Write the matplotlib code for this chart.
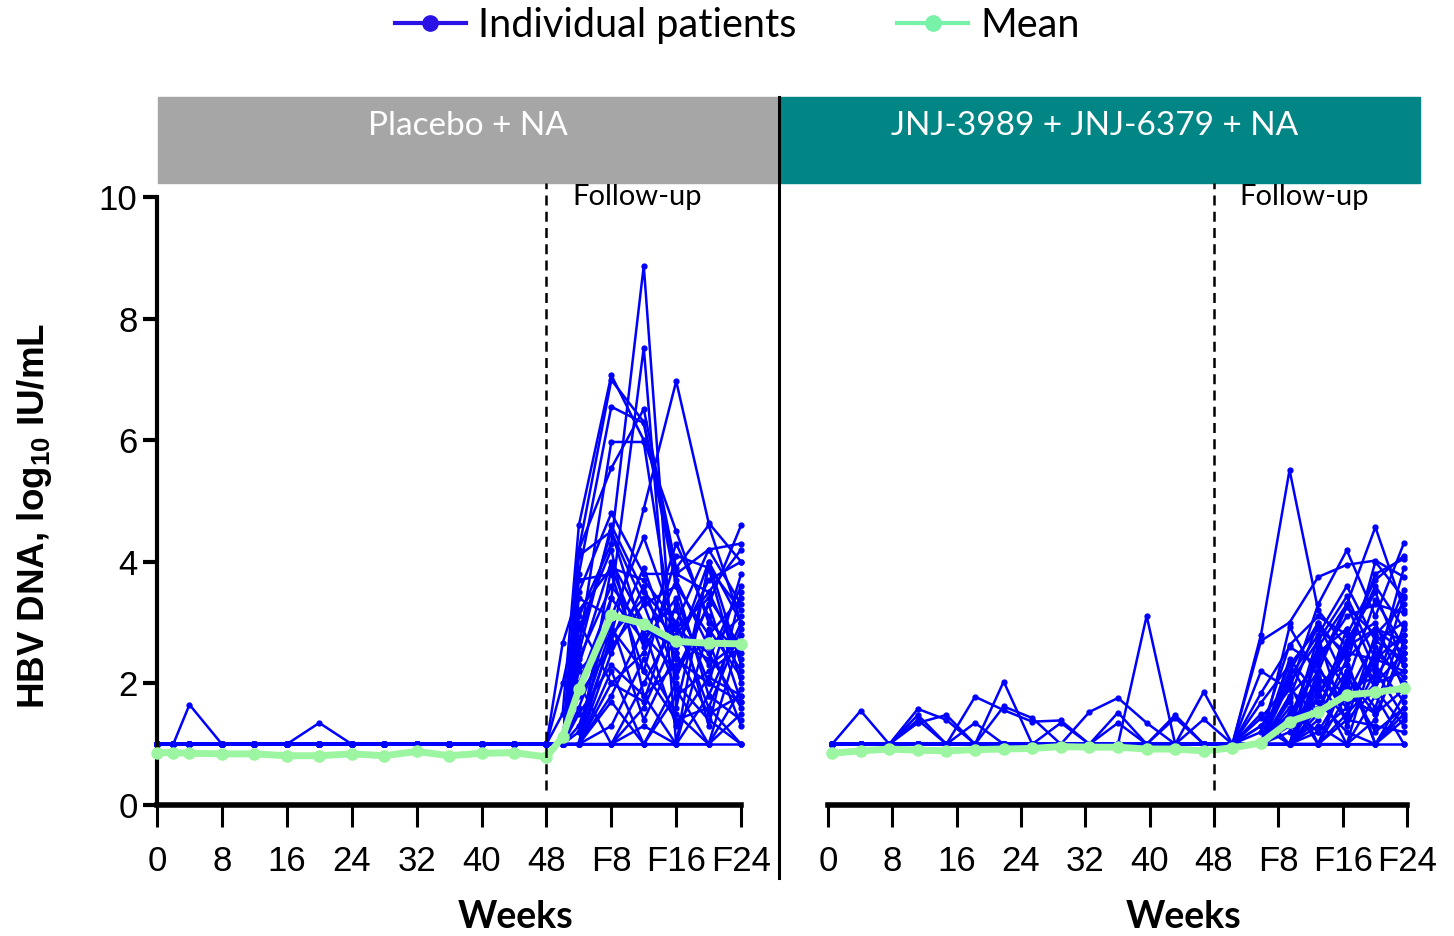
import matplotlib
matplotlib.use("Agg")
import matplotlib.pyplot as plt
from matplotlib.lines import Line2D
from matplotlib.patches import Rectangle

plt.rcParams['font.family'] = 'Liberation Sans'
plt.rcParams['mathtext.fontset'] = 'custom'
plt.rcParams['mathtext.rm'] = 'Liberation Sans'
plt.rcParams['mathtext.bf'] = 'Liberation Sans:bold'

# ---- data (log10 IU/mL), follow-up weeks F2..F24 drawn after week 48 ----
left_weeks = [0, 2, 4, 8, 12, 16, 20, 24, 28, 32, 36, 40, 44, 48,
              50, 52, 56, 60, 64, 68, 72]
# right arm visits are drawn equally spaced in the source figure
right_weeks = [0.5, 4.06, 7.61, 11.17, 14.72, 18.28, 21.84, 25.39, 28.95, 32.5,
               36.06, 39.62, 43.17, 46.73, 50.28, 53.84, 57.39, 60.95, 64.51,
               68.06, 71.62]

tick_weeks = [0, 8, 16, 24, 32, 40, 48, 56, 64, 72]
tick_labels = ['0', '8', '16', '24', '32', '40', '48', 'F8', 'F16', 'F24']

LLOQ_ON = [1.0] * 14   # on-treatment values at the lower limit

# Placebo + NA: on-treatment blips
left_on = {
    0: [1.0, 1.0, 1.65, 1.0, 1.0, 1.0, 1.0, 1.0, 1.0, 1.0, 1.0, 1.0, 1.0, 1.0],
    1: [1.0, 1.0, 1.0, 1.0, 1.0, 1.0, 1.35, 1.0, 1.0, 1.0, 1.0, 1.0, 1.0, 1.0],
}
# Placebo + NA: follow-up F2, F4, F8, F12, F16, F20, F24
left_fu = [
    [1.5, 4.6, 7.07, 6.0, 4.5, 3.0, 2.5],
    [1.0, 4.2, 6.99, 6.3, 3.8, 3.5, 4.2],
    [1.0, 3.8, 6.55, 6.28, 3.6, 2.8, 3.4],
    [1.0, 2.6, 5.97, 5.97, 2.5, 1.5, 1.8],
    [1.0, 3.1, 4.3, 8.87, 1.6, 3.9, 2.0],
    [1.0, 2.0, 3.4, 7.52, 1.0, 4.0, 3.0],
    [1.0, 1.0, 2.8, 4.87, 6.97, 4.64, 4.0],
    [1.0, 4.2, 5.54, 6.51, 3.9, 4.6, 3.0],
    [2.66, 3.5, 4.8, 3.8, 3.8, 4.2, 4.3],
    [1.0, 2.7, 4.5, 2.8, 2.2, 3.3, 1.7],
    [1.0, 1.0, 3.9, 3.7, 3.0, 1.6, 2.9],
    [1.0, 1.0, 1.0, 2.0, 3.0, 4.2, 3.3],
    [1.0, 2.2, 2.8, 3.4, 2.7, 2.4, 3.6],
    [1.0, 1.5, 2.3, 1.8, 1.0, 2.9, 2.1],
    [1.0, 1.0, 1.7, 1.0, 2.0, 1.4, 1.0],
    [2.0, 3.2, 3.9, 2.6, 4.3, 3.1, 2.2],
    [1.0, 1.8, 2.6, 3.3, 3.6, 1.8, 3.0],
    [1.0, 1.0, 1.3, 2.4, 1.5, 1.0, 1.9],
    [1.0, 2.9, 4.2, 1.8, 2.3, 2.7, 1.3],
    [1.0, 1.0, 2.2, 1.0, 1.8, 2.2, 2.6],
    [1.0, 3.7, 3.8, 2.2, 1.4, 1.6, 1.0],
    [1.0, 1.0, 1.0, 1.0, 1.0, 1.0, 1.0],
    [1.0, 2.4, 3.6, 2.9, 2.6, 3.7, 4.0],
    [1.0, 1.0, 1.0, 1.6, 2.8, 3.5, 2.4],
    [1.0, 4.1, 4.5, 3.3, 1.9, 1.0, 1.5],
    [1.0, 1.0, 3.4, 2.7, 3.4, 2.0, 3.8],
    [1.0, 2.0, 1.0, 1.0, 1.0, 1.8, 1.4],
    [1.0, 1.3, 2.9, 2.2, 4.1, 3.9, 3.2],
    [1.0, 1.0, 1.0, 1.3, 1.0, 1.0, 2.8],
    [1.0, 3.4, 3.1, 4.4, 2.9, 2.5, 1.6],
    [1.0, 2.3, 4.0, 3.0, 3.2, 2.3, 2.7],
    [1.0, 1.0, 2.5, 3.6, 2.1, 3.3, 4.6],
    [1.0, 3.0, 2.0, 2.5, 3.7, 2.6, 3.1],
    [1.0, 1.6, 3.0, 1.4, 2.5, 4.0, 2.3],
    [1.0, 1.0, 1.8, 2.9, 1.3, 2.1, 1.8],
    [1.0, 2.5, 4.6, 3.5, 2.9, 3.4, 2.6],
    [1.0, 1.0, 2.0, 1.7, 3.3, 1.3, 3.5],
    [1.0, 1.2, 2.7, 3.9, 2.4, 2.0, 1.7],
]
left_mean = [0.86, 0.86, 0.85, 0.84, 0.84, 0.81, 0.81, 0.84, 0.81, 0.88, 0.81,
             0.85, 0.86, 0.79, 1.12, 1.90, 3.12, 2.98, 2.69, 2.66, 2.65]

# JNJ-3989 + JNJ-6379 + NA: on-treatment blips
right_on = {
    0: [1.0, 1.55, 1.0, 1.0, 1.0, 1.0, 1.0, 1.0, 1.0, 1.0, 1.0, 1.0, 1.0, 1.0],
    1: [1.0, 1.0, 1.0, 1.58, 1.4, 1.0, 1.62, 1.43, 1.0, 1.0, 1.0, 1.0, 1.0, 1.0],
    2: [1.0, 1.0, 1.0, 1.48, 1.0, 1.78, 1.56, 1.37, 1.39, 1.0, 1.35, 1.0, 1.43, 1.0],
    3: [1.0, 1.0, 1.0, 1.35, 1.48, 1.0, 1.0, 1.0, 1.0, 1.53, 1.76, 1.35, 1.0, 1.86],
    4: [1.0, 1.0, 1.0, 1.0, 1.0, 1.0, 2.03, 1.0, 1.0, 1.0, 1.0, 1.0, 1.48, 1.0],
    5: [1.0, 1.0, 1.0, 1.4, 1.0, 1.35, 1.0, 1.0, 1.35, 1.0, 1.52, 1.0, 1.0, 1.41],
    6: [1.0, 1.0, 1.0, 1.0, 1.0, 1.0, 1.0, 1.0, 1.0, 1.0, 1.0, 3.11, 1.0, 1.0],
}
# follow-up visits after week 48 (first one back at the lower limit)
right_fu = [
    [1.0, 2.8, 5.51, 3.2, 2.6, 2.9, 2.5],
    [1.0, 2.7, 3.0, 3.75, 3.95, 4.02, 3.75],
    [1.0, 2.2, 1.9, 3.3, 4.19, 3.1, 4.31],
    [1.0, 1.84, 2.6, 2.3, 3.3, 4.57, 3.2],
    [1.0, 1.68, 2.3, 2.9, 2.5, 3.8, 4.05],
    [1.0, 1.43, 2.0, 2.7, 3.43, 2.4, 3.54],
    [1.0, 1.0, 1.76, 2.99, 2.0, 3.37, 2.6],
    [1.0, 1.0, 1.51, 2.2, 3.26, 2.8, 2.3],
    [1.0, 1.0, 1.0, 2.5, 2.9, 1.9, 3.43],
    [1.0, 1.0, 2.93, 2.1, 1.6, 2.5, 2.1],
    [1.0, 1.3, 1.0, 1.8, 2.7, 3.0, 1.9],
    [1.0, 1.0, 2.33, 1.5, 2.2, 1.6, 2.96],
    [1.0, 1.0, 1.0, 1.0, 1.8, 2.7, 2.4],
    [1.0, 1.0, 1.2, 2.77, 1.3, 2.2, 1.45],
    [1.0, 1.0, 1.0, 1.4, 2.4, 1.0, 1.8],
    [1.0, 1.0, 2.0, 1.0, 1.5, 2.0, 2.2],
    [1.0, 1.0, 1.0, 1.9, 1.0, 1.4, 2.7],
    [1.0, 1.0, 1.6, 1.2, 2.0, 1.2, 1.6],
    [1.0, 1.0, 1.0, 1.0, 1.0, 1.8, 1.0],
    [1.0, 1.0, 1.0, 1.0, 1.0, 1.0, 1.0],
    [1.0, 1.0, 1.3, 2.4, 3.1, 3.3, 3.16],
    [1.0, 1.0, 1.0, 1.6, 2.6, 3.6, 2.9],
    [1.0, 1.2, 2.63, 3.1, 2.8, 3.7, 4.1],
    [1.0, 1.0, 1.0, 2.1, 1.7, 2.3, 1.7],
    [1.0, 1.0, 1.7, 1.0, 2.1, 1.5, 2.5],
    [1.0, 1.0, 1.0, 1.3, 1.0, 2.6, 2.0],
    [1.0, 1.0, 1.4, 1.7, 1.2, 1.0, 1.4],
    [1.0, 1.5, 1.0, 2.6, 1.9, 2.1, 2.8],
    [1.0, 1.0, 1.0, 1.0, 1.4, 1.3, 1.2],
    [1.0, 1.0, 2.1, 2.8, 3.6, 2.7, 3.0],
    [1.0, 1.0, 1.0, 2.0, 2.3, 4.0, 3.4],
    [1.0, 1.0, 1.0, 1.2, 1.6, 2.4, 2.2],
    [1.0, 1.0, 1.0, 1.0, 1.0, 1.0, 1.6],
    [1.0, 1.0, 1.8, 2.3, 1.4, 1.9, 1.3],
    [1.0, 1.0, 1.0, 1.5, 2.9, 2.0, 2.5],
    [1.0, 1.0, 2.2, 3.0, 2.4, 2.9, 2.7],
    [1.0, 1.0, 1.4, 2.6, 3.3, 2.2, 3.9],
    [1.0, 1.3, 1.9, 1.5, 2.7, 3.5, 2.3],
    [1.0, 1.0, 1.0, 2.2, 1.8, 1.5, 1.9],
    [1.0, 1.0, 2.4, 1.8, 2.5, 2.4, 2.8],
    [1.0, 1.0, 1.0, 1.0, 2.2, 1.0, 1.5],
    [1.0, 1.0, 1.5, 2.0, 1.4, 2.8, 3.3],
]
right_mean = [0.85, 0.89, 0.92, 0.90, 0.89, 0.91, 0.92, 0.93, 0.96, 0.95, 0.95,
              0.92, 0.92, 0.89, 0.94, 1.02, 1.37, 1.53, 1.81, 1.85, 1.92]

BLUE = '#0000FF'
GREEN = '#9CF5A0'
GRAY = '#A6A6A6'
TEAL = '#018585'
HDR_FONT = 'Lato'

fig = plt.figure(figsize=(14.54, 9.36), dpi=100)
ax1 = fig.add_axes([0.1080, 0.1400, 0.4017, 0.6496])
ax2 = fig.add_axes([0.5695, 0.1400, 0.3982, 0.6496])


def draw_panel(ax, weeks, on_dict, fu_list, mean_vals):
    for i, fu in enumerate(fu_list):
        vals = on_dict.get(i, LLOQ_ON) + fu
        ax.plot(weeks, vals, color=BLUE, lw=1.8, marker='o', ms=3.5,
                clip_on=False, zorder=2)
    ax.plot(weeks, mean_vals, color=GREEN, lw=5, marker='o', ms=8,
            clip_on=False, zorder=3)
    ax.set_xlim(0, 72)
    ax.set_ylim(0, 10)
    ax.set_xticks(tick_weeks)
    ax.set_xticklabels(tick_labels)
    ax.tick_params(axis='x', direction='out', length=16, width=2.2,
                   labelsize=25, pad=13)
    for s in ['top', 'right']:
        ax.spines[s].set_visible(False)
    ax.spines['bottom'].set_linewidth(4)
    ax.axvline(48, ymin=0.025, ymax=1.023, color='black', lw=1.8,
               ls=(0, (4, 2.5)), clip_on=False, zorder=4)
    ax.text(51.2, 10.0, 'Follow-up', fontsize=21, family=HDR_FONT,
            ha='left', va='center')
    ax.text(44.2, -1.85, 'Weeks', fontsize=27, fontweight='bold',
            family=HDR_FONT, ha='center', va='center')


draw_panel(ax1, left_weeks, left_on, left_fu, left_mean)
draw_panel(ax2, right_weeks, right_on, right_fu, right_mean)

ax1.set_yticks([0, 2, 4, 6, 8, 10])
ax1.tick_params(axis='y', direction='out', length=10, width=3,
                labelsize=25, pad=4)
ax1.spines['left'].set_linewidth(3)
ax2.spines['left'].set_visible(False)
ax2.set_yticks([])

# header boxes
fig.add_artist(Rectangle((0.1087, 0.8045), 0.4264, 0.0919,
                         transform=fig.transFigure, color=GRAY, zorder=0))
fig.add_artist(Rectangle((0.5365, 0.8045), 0.4401, 0.0919,
                         transform=fig.transFigure, color=TEAL, zorder=0))
fig.text(0.3219, 0.8652, 'Placebo + NA', color='white', fontsize=24,
         family=HDR_FONT, ha='center', va='center')
fig.text(0.7531, 0.8652, 'JNJ-3989 + JNJ-6379 + NA', color='white',
         fontsize=24, family=HDR_FONT, ha='center', va='center')
fig.add_artist(Line2D([0.5358, 0.5358], [0.062, 0.8964], color='black',
                      lw=2.2, transform=fig.transFigure))

fig.text(0.0235, 0.449, r'HBV DNA, log$\mathbf{_{10}}$ IU/mL', rotation=90,
         fontsize=26.5, fontweight='bold', ha='center', va='center')

handles = [Line2D([], [], color='#2A12E6', lw=3, marker='o', ms=11),
           Line2D([], [], color='#77F2A8', lw=3, marker='o', ms=11)]
fig.legend(handles, ['Individual patients', 'Mean'], loc='upper center',
           bbox_to_anchor=(0.507, 1.031), ncol=2, frameon=False,
           prop={'family': HDR_FONT, 'size': 28.5}, handlelength=1.8,
           handletextpad=0.3, columnspacing=2.55)

fig.savefig('out.png', dpi=100)
